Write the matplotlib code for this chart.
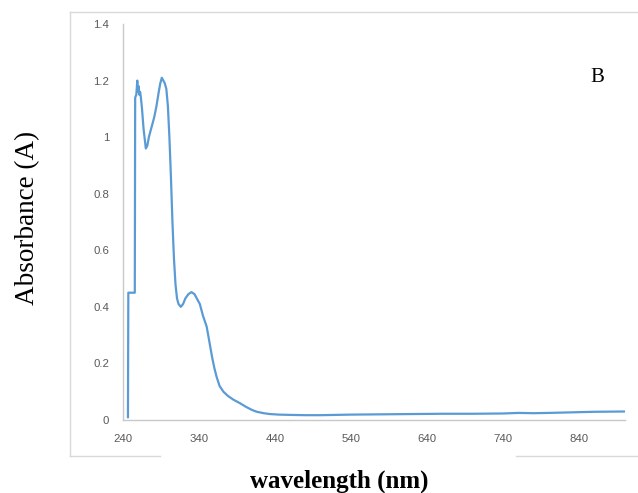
import matplotlib
matplotlib.use("Agg")
import matplotlib.pyplot as plt
from matplotlib.lines import Line2D

# absorbance spectrum (nm, A)
wavelength = [246.5, 247, 255.5, 256, 257.5, 258.8, 259.5, 260.5, 261.5, 262.5, 263.5,
              265, 267, 270, 272, 274, 276, 278, 281, 284, 287, 289, 291, 293, 295,
              297, 299, 301, 303, 305, 307, 309, 311, 313, 316, 319, 322, 326, 330,
              334, 338, 341, 345, 350, 354, 357, 360, 363, 367, 372, 378, 385, 394,
              402, 410, 416, 425, 433, 445, 460, 480, 500, 540, 580, 620, 660, 700,
              740, 760, 780, 800, 830, 860, 900]
absorbance = [0.01, 0.45, 0.45, 1.14, 1.15, 1.20, 1.16, 1.18, 1.15, 1.16, 1.14,
              1.10, 1.03, 0.96, 0.97, 1.00, 1.02, 1.04, 1.07, 1.11, 1.16, 1.19, 1.21,
              1.20, 1.19, 1.17, 1.11, 1.00, 0.86, 0.70, 0.57, 0.48, 0.43, 0.41, 0.40,
              0.41, 0.43, 0.445, 0.452, 0.445, 0.425, 0.41, 0.37, 0.33, 0.27, 0.224,
              0.185, 0.153, 0.12, 0.10, 0.085, 0.072, 0.059, 0.046, 0.035, 0.029,
              0.024, 0.021, 0.019, 0.018, 0.017, 0.017, 0.019, 0.020, 0.021, 0.022,
              0.022, 0.023, 0.025, 0.024, 0.025, 0.027, 0.029, 0.030]

x_ticks = [240, 340, 440, 540, 640, 740, 840]
y_ticks = [0, 0.2, 0.4, 0.6, 0.8, 1.0, 1.2, 1.4]
y_tick_labels = ["0", "0.2", "0.4", "0.6", "0.8", "1", "1.2", "1.4"]

fig = plt.figure(figsize=(6.38, 4.93), dpi=100)
ax = fig.add_axes([0.1928, 0.1481, 0.7868, 0.8032])

ax.plot(wavelength, absorbance, color="#5b9bd5", linewidth=1.6)

ax.set_xlim(240, 900)
ax.set_ylim(0, 1.4)
ax.set_xticks(x_ticks)
ax.set_yticks(y_ticks)
ax.set_yticklabels(y_tick_labels)
ax.tick_params(length=0, labelsize=8.2, labelcolor="#595959")
ax.tick_params(axis="y", pad=10)
ax.tick_params(axis="x", pad=10)
for lbl in ax.get_xticklabels() + ax.get_yticklabels():
    lbl.set_family("Liberation Sans")

for s in ["top", "right"]:
    ax.spines[s].set_visible(False)
for s in ["left", "bottom"]:
    ax.spines[s].set_color("#c8c8c8")
    ax.spines[s].set_linewidth(1.0)

fig.text(0.937, 0.842, "B", fontsize=15,
         family="Liberation Serif", ha="center", va="center")

fig.text(0.044, 0.558, "Absorbance (A)", rotation=90, fontsize=19.5,
         family="Liberation Serif", ha="center", va="center")
fig.text(0.532, 0.024, "wavelength (nm)", fontsize=18, fontweight="bold",
         family="Liberation Serif", ha="center", va="center")

# outer chart frame, broken under the x label
W, H = 638.0, 493.0
frame = "#d9d9d9"
segs = [((70, 640), (12, 12)), ((70, 70), (12, 456)),
        ((70, 160), (456, 456)), ((516, 640), (456, 456))]
for xs, ys in segs:
    fig.add_artist(Line2D([x / W for x in xs], [1 - y / H for y in ys],
                          color=frame, linewidth=1.0, transform=fig.transFigure))

fig.savefig("out.png", dpi=100)
